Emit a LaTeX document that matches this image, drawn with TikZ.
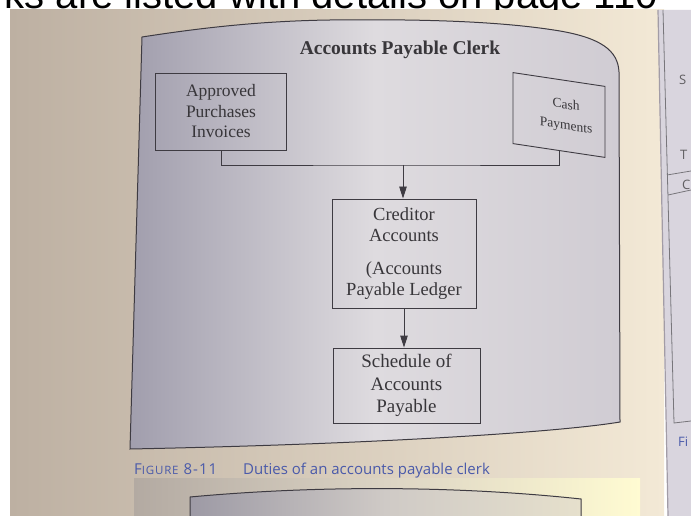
\documentclass[tikz,border=0pt]{standalone}
\usepackage{fontspec}
\setmainfont{Liberation Serif}
\newfontfamily\headfont{Liberation Sans}
\newfontfamily\capfont{Open Sans}
\newfontfamily\capwide{Open Sans}[LetterSpace=7]
\usetikzlibrary{arrows.meta}

\definecolor{pageL}{HTML}{BDB0A2}
\definecolor{pageR}{HTML}{F3E9D6}
\definecolor{rpage}{HTML}{D9D5DE}
\definecolor{fold}{HTML}{A29CA6}
\definecolor{pnlL}{HTML}{A19EAD}
\definecolor{pnlM}{HTML}{DEDBDF}
\definecolor{pnlR}{HTML}{D0CCD3}
\definecolor{ink}{HTML}{3E3B42}
\definecolor{txt}{HTML}{38363A}
\definecolor{capblue}{HTML}{4A5AAA}
\definecolor{stripL}{HTML}{B3AAA2}
\definecolor{stripM}{HTML}{DCD4C4}
\definecolor{stripR}{HTML}{FFFBD2}
\definecolor{lowL}{HTML}{9D9AA5}
\definecolor{lowM}{HTML}{CFCAC6}
\definecolor{lowR}{HTML}{E6E0CC}

\begin{document}
\begin{tikzpicture}[x=1pt,y=-1pt,
  box/.style={draw=ink, line width=0.9pt, text=txt, align=center, inner sep=0pt},
  flow/.style={draw=ink, line width=0.9pt},
  arrowline/.style={flow, -{Triangle[length=12pt,width=7.5pt]}},
  sidetext/.style={font=\capfont\fontsize{13}{13}\selectfont, text=txt!80, anchor=west, inner sep=0pt},
  captext/.style={anchor=base west, inner sep=0pt, text=capblue},
]
\useasboundingbox (0,0) rectangle (691,516);

% paper and the neighbouring page
\fill[white] (0,0) rectangle (691,516);
\shade[left color=pageL, right color=pageR] (10,10) rectangle (664,516);
\fill[rpage] (658,10) -- (691,10) -- (691,516) -- (668,516) -- cycle;
\draw[fold, line width=1.2pt] (658,10) -- (668,516);

% running text cut off by the top edge
\begin{scope}
  \clip (0,0) rectangle (691,10);
  \node[font=\headfont\fontsize{40}{40}\selectfont, anchor=base east, inner sep=0pt] (head) at (658,9) {ks are listed with details on page 110};
\end{scope}

% figure panel
\shadedraw[left color=pnlL, right color=pnlR, middle color=pnlM, draw=ink, line width=1pt]
  (142,37) .. controls (200,28) and (260,21) .. (330,20)
  .. controls (420,19) and (500,21) .. (560,31)
  .. controls (600,38) and (618,50) .. (619,72)
  -- (620,422)
  .. controls (560,432) and (380,444) .. (130,449) -- cycle;

\node[font=\bfseries\fontsize{19.5}{22}\selectfont, text=txt] (title) at (400,50) {Accounts Payable Clerk};

\node[box, minimum width=131pt, minimum height=77pt, font=\fontsize{17.5}{20.5}\selectfont] (appr) at (221,111.5) {Approved\\Purchases\\Invoices};

\begin{scope}[shift={(559,115)}, yslant=-0.15]
  \node[box, transform shape, minimum width=92pt, minimum height=71pt, font=\fontsize{13.5}{21}\selectfont] (cash) at (0,0) {\hspace*{14pt}Cash\\\hspace*{14pt}Payments};
\end{scope}

\coordinate (join) at (403,165);
\draw[flow] (appr.south) |- (join) -| (cash.south);

\node[box, minimum width=144pt, minimum height=109pt, font=\fontsize{18.5}{21}\selectfont] (cred) at (404,253.5) {Creditor\\Accounts\\[12pt](Accounts\\Payable Ledger};

\node[box, minimum width=147pt, minimum height=75pt, font=\fontsize{19}{22.5}\selectfont] (sched) at (406.5,385.5) {Schedule of\\Accounts\\Payable};

\draw[arrowline] (join) -- (join |- cred.north);
\draw[arrowline] (cred.south) -- (cred.south |- sched.north);

% caption
\node[captext, font=\capwide\fontsize{15}{15}\selectfont] (fig) at (134,474) {F{\fontsize{11.5}{11.5}\selectfont IGURE} 8-11};
\node[captext, font=\capfont\fontsize{15}{15}\selectfont] (cap) at (243,474) {Duties of an accounts payable clerk};

% next figure on the page
\shade[left color=stripL, right color=stripR, middle color=stripM] (134,478) rectangle (640,516);
\shadedraw[left color=lowL, right color=lowR, middle color=lowM, draw=ink, line width=1pt]
  (190,516) -- (190,497) .. controls (320,485) and (460,486) .. (581,499) -- (581,516);

% facing page
\draw[ink!70, line width=0.8pt] (663,10) -- (674,423) -- (691,421);
\draw[ink!70, line width=0.8pt] (667,175) -- (691,171);
\draw[ink!70, line width=0.8pt] (668,195) -- (691,190);
\node[sidetext] (rs) at (679,80) {S};
\node[sidetext] (rt) at (680,155) {T};
\node[sidetext] (rc) at (682,185) {C};
\node[sidetext, text=capblue] (rf) at (678,442) {Fi};
\end{tikzpicture}
\end{document}
